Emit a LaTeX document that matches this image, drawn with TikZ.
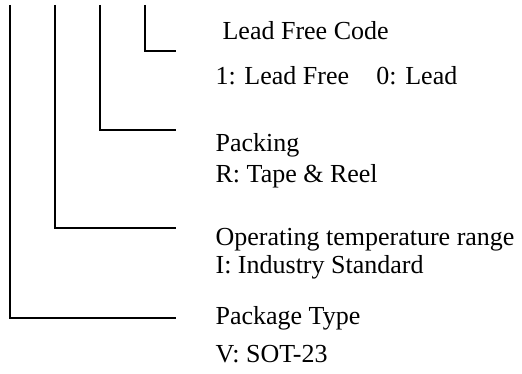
\documentclass[tikz,border=0pt]{standalone}
\usepackage{fontspec}
\setmainfont{Liberation Serif}

\begin{document}
\begin{tikzpicture}[x=0.5pt,y=-0.5pt,line width=0.6pt,
    lbl/.style={anchor=base west,inner sep=0pt,font=\fontsize{13}{15}\selectfont}]
  \useasboundingbox (0,0) rectangle (522,373);
  % top ends of the four leads
  \coordinate (A) at (10,5);
  \coordinate (B) at (55,5);
  \coordinate (C) at (100,5);
  \coordinate (D) at (145,5);
  % ends of the horizontal strokes
  \coordinate (P) at (176,318);
  \coordinate (O) at (176,228);
  \coordinate (R) at (176,130);
  \coordinate (L) at (176,51);

  % Draw the leads
  \draw (D) |- (L);
  \draw (C) |- (R);
  \draw (B) |- (O);
  \draw (A) |- (P);

  % Field texts
  \node[lbl] (code) at (222,40) {Lead Free Code};
  \node[lbl] (codeval) at (215,85) {1: Lead Free\hspace{1.05em}0: Lead};
  \node[lbl] (pack) at (215,152) {Packing};
  \node[lbl] (packval) at (215,183) {R: Tape \& Reel};
  \node[lbl] (temp) at (215,245) {Operating temperature range};
  \node[lbl] (tempval) at (215,273) {I: Industry Standard};
  \node[lbl] (type) at (215,324) {Package Type};
  \node[lbl] (typeval) at (215,362) {V: SOT-23};
\end{tikzpicture}
\end{document}
